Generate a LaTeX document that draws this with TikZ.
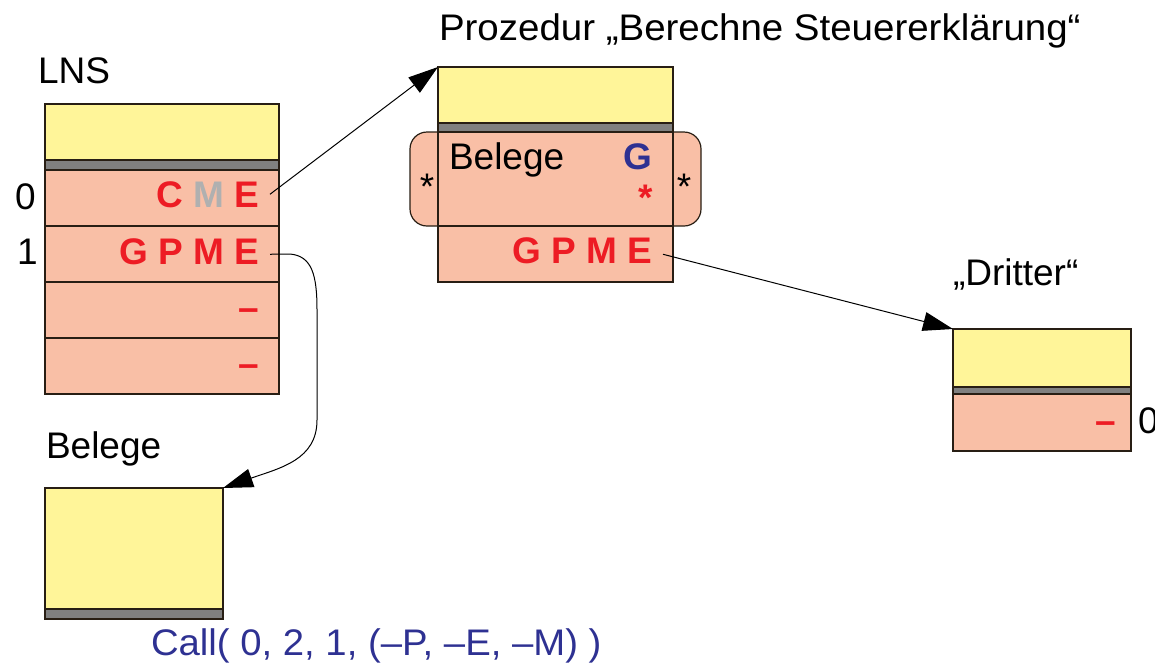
\documentclass[tikz,border=0pt]{standalone}
\usepackage{fontspec}
\setmainfont{Liberation Sans}
\usetikzlibrary{arrows.meta}
\definecolor{yel}{RGB}{255,245,153}
\definecolor{sal}{RGB}{249,191,166}
\definecolor{barc}{RGB}{128,128,128}
\definecolor{rd}{RGB}{237,28,36}
\definecolor{bl}{RGB}{46,49,146}
\definecolor{lg}{RGB}{176,176,176}
\definecolor{edge}{RGB}{40,30,20}
\tikzset{
  box/.style={draw=edge, line width=1.2pt, inner sep=0pt, outer sep=0pt, anchor=north west},
  yelbox/.style={box, fill=yel},
  barbox/.style={box, fill=barc},
  slotbox/.style={box, fill=sal},
  txt/.style={inner sep=0pt, outer sep=0pt, font=\fontsize{37}{44}\selectfont},
  btxt/.style={inner sep=0pt, outer sep=0pt, font=\fontsize{37}{44}\selectfont\bfseries, text=rd},
  conn/.style={line width=1pt, -{Triangle[length=30pt,width=19pt]}},
}
\begin{document}
\begin{tikzpicture}[x=1pt,y=-1pt]
\useasboundingbox (0,0) rectangle (1155,665);
% ---------- LNS ----------
\node[txt, anchor=base west] (lnsL) at (38,83) {LNS};
\node[yelbox, minimum width=234pt, minimum height=56pt] (lnsY) at (45,104) {};
\node[barbox, minimum width=234pt, minimum height=10pt] (lnsB) at (45,160) {};
\node[slotbox, minimum width=234pt, minimum height=56pt] (lns0) at (45,170) {};
\node[slotbox, minimum width=234pt, minimum height=56pt] (lns1) at (45,226) {};
\node[slotbox, minimum width=234pt, minimum height=56pt] (lns2) at (45,282) {};
\node[slotbox, minimum width=234pt, minimum height=56pt] (lns3) at (45,338) {};
\node[txt, anchor=base west] (d0) at (15,209) {0};
\node[txt, anchor=base west] (d1) at (17,264) {1};
\node[btxt, anchor=base east] (cme) at (259,207) {C \textcolor{lg}{M} E};
\node[btxt, anchor=base east] (gpme1) at (259,264) {G P M E};
\node[btxt, anchor=base east] (dash2) at (259,320) {–};
\node[btxt, anchor=base east] (dash3) at (259,376) {–};
% ---------- Prozedur ----------
\node[txt, anchor=base west] (title) at (439,40) {\scalebox{1.04}[1]{Prozedur „Berechne Steuererklärung“}};
\node[yelbox, minimum width=235pt, minimum height=56pt] (procY) at (438,67) {};
\node[barbox, minimum width=235pt, minimum height=9pt] (procB) at (438,123) {};
\node[slotbox, rounded corners=17pt, minimum width=291pt, minimum height=94pt] (round) at (410,132) {};
\node[slotbox, minimum width=235pt, minimum height=94pt] (proc0) at (438,132) {};
\node[slotbox, minimum width=235pt, minimum height=56pt] (proc1) at (438,226) {};
\node[txt, anchor=base west] (belP) at (449,169) {Belege};
\node[btxt, anchor=base east, text=bl] (gP) at (652,169) {G};
\node[btxt, anchor=base] (rstar) at (646,210) {*};
\node[txt, anchor=base] (lstar) at (427,199) {*};
\node[txt, anchor=base] (rstar2) at (684,199) {*};
\node[btxt, anchor=base east] (gpmeP) at (652,263) {G P M E};
% ---------- Dritter ----------
\node[txt, anchor=base west] (drL) at (953,285) {„Dritter“};
\node[yelbox, minimum width=178pt, minimum height=58pt] (drY) at (953,329) {};
\node[barbox, minimum width=178pt, minimum height=7pt] (drB) at (953,387) {};
\node[slotbox, minimum width=178pt, minimum height=57pt] (dr0) at (953,394) {};
\node[btxt, anchor=base east] (drdash) at (1116,433) {–};
\node[txt, anchor=base west] (dr0L) at (1138,433) {0};
% ---------- Belege ----------
\node[txt, anchor=base west] (belL) at (46,458) {Belege};
\node[yelbox, minimum width=178pt, minimum height=121pt] (belY) at (45,488) {};
\node[barbox, minimum width=178pt, minimum height=10pt] (belB) at (45,609) {};
\node[txt, anchor=base west, text=bl] (call) at (151,655) {\scalebox{1.035}[1]{Call( 0, 2, 1, (–P, –E, –M) )}};
% ---------- connectors ----------
\draw[conn] ([xshift=11pt]cme.east) -- (procY.north west);
\draw[conn] ([shift={(11,4)}]gpmeP.east) -- (drY.north west);
\draw[conn] ([shift={(11,3)}]gpme1.east) -- (290,254)
  .. controls (312,256) and (317,275) .. (317,310) -- (317,420)
  .. controls (317,460) and (280,468) .. (belY.north east);
\end{tikzpicture}
\end{document}
